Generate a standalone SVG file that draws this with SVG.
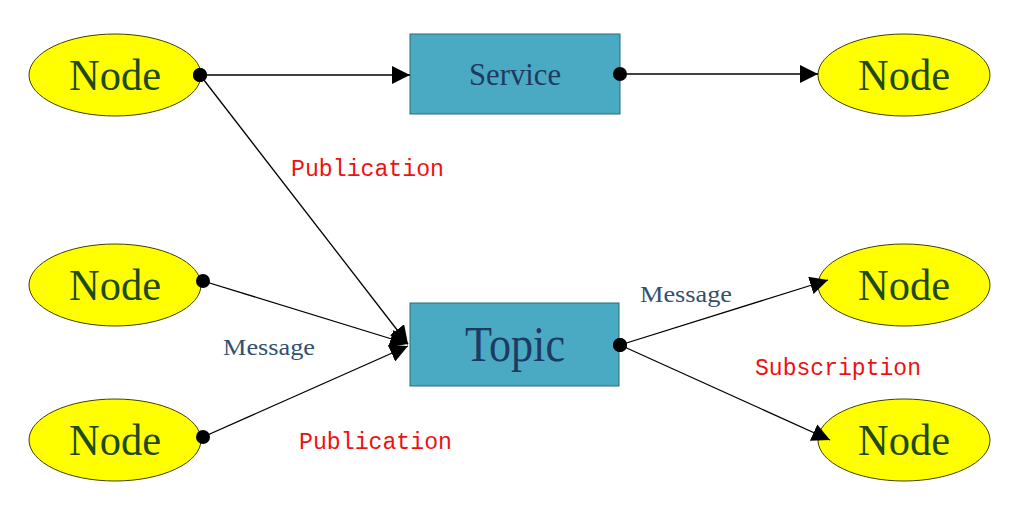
<svg xmlns="http://www.w3.org/2000/svg" width="1028" height="509" viewBox="0 0 1028 509">
<style>
.n ellipse{fill:#ffff00;stroke:#404000;stroke-width:1}
.n text{font-family:"Liberation Serif",serif;font-size:44px;fill:#1f4a1f;text-anchor:middle}
.b rect{fill:#4aaac4;stroke:#2a6a7a;stroke-width:1}
.b text{font-family:"Liberation Serif",serif;fill:#1e3a60;text-anchor:middle}
.c line{stroke:#000;stroke-width:1.3}
.m{font-family:"Liberation Serif",serif;font-size:23px;fill:#33506e}
.p{font-family:"Liberation Mono",monospace;font-size:23px;fill:#ee1111}
</style>
<defs>
<marker id="a" viewBox="0 0 10 10" refX="10" refY="5" markerWidth="18" markerHeight="18" markerUnits="userSpaceOnUse" orient="auto"><path d="M0,0L10,5L0,10z"/></marker>
<marker id="d" viewBox="0 0 10 10" refX="5" refY="5" markerWidth="14" markerHeight="14" markerUnits="userSpaceOnUse"><circle cx="5" cy="5" r="5"/></marker>
</defs>
<g id="n1" class="n"><ellipse cx="115" cy="75" rx="86" ry="41"/><text x="115" y="90" textLength="92" lengthAdjust="spacingAndGlyphs">Node</text></g>
<g id="n2" class="n"><ellipse cx="115" cy="285" rx="86" ry="41"/><text x="115" y="300" textLength="92" lengthAdjust="spacingAndGlyphs">Node</text></g>
<g id="n3" class="n"><ellipse cx="115" cy="440" rx="86" ry="41"/><text x="115" y="455" textLength="92" lengthAdjust="spacingAndGlyphs">Node</text></g>
<g id="n4" class="n"><ellipse cx="904" cy="75" rx="86" ry="41"/><text x="904" y="90" textLength="92" lengthAdjust="spacingAndGlyphs">Node</text></g>
<g id="n5" class="n"><ellipse cx="904" cy="285" rx="86" ry="41"/><text x="904" y="300" textLength="92" lengthAdjust="spacingAndGlyphs">Node</text></g>
<g id="n6" class="n"><ellipse cx="904" cy="440" rx="86" ry="41"/><text x="904" y="455" textLength="92" lengthAdjust="spacingAndGlyphs">Node</text></g>
<g id="service" class="b"><rect x="410" y="34" width="210" height="80"/><text x="515" y="85" font-size="32" textLength="92" lengthAdjust="spacingAndGlyphs">Service</text></g>
<g id="topic" class="b"><rect x="410" y="303" width="209" height="83"/><text x="515" y="361" font-size="50" textLength="100" lengthAdjust="spacingAndGlyphs">Topic</text></g>
<g id="connectors" class="c">
<line x1="200" y1="75" x2="410" y2="75" marker-start="url(#d)" marker-end="url(#a)"/>
<line x1="620" y1="74" x2="818" y2="74" marker-start="url(#d)" marker-end="url(#a)"/>
<line x1="200" y1="75" x2="408" y2="344" marker-start="url(#d)" marker-end="url(#a)"/>
<line x1="203" y1="281" x2="408" y2="344" marker-start="url(#d)" marker-end="url(#a)"/>
<line x1="203" y1="437" x2="408" y2="346" marker-start="url(#d)" marker-end="url(#a)"/>
<line x1="620" y1="345" x2="828" y2="280" marker-start="url(#d)" marker-end="url(#a)"/>
<line x1="620" y1="345" x2="830" y2="440" marker-start="url(#d)" marker-end="url(#a)"/>
</g>
<text class="p" x="291" y="176" textLength="153" lengthAdjust="spacingAndGlyphs">Publication</text>
<text class="m" x="223" y="355" textLength="92" lengthAdjust="spacingAndGlyphs">Message</text>
<text class="p" x="299" y="449" textLength="153" lengthAdjust="spacingAndGlyphs">Publication</text>
<text class="m" x="640" y="302" textLength="92" lengthAdjust="spacingAndGlyphs">Message</text>
<text class="p" x="755" y="375" textLength="166" lengthAdjust="spacingAndGlyphs">Subscription</text>
</svg>
